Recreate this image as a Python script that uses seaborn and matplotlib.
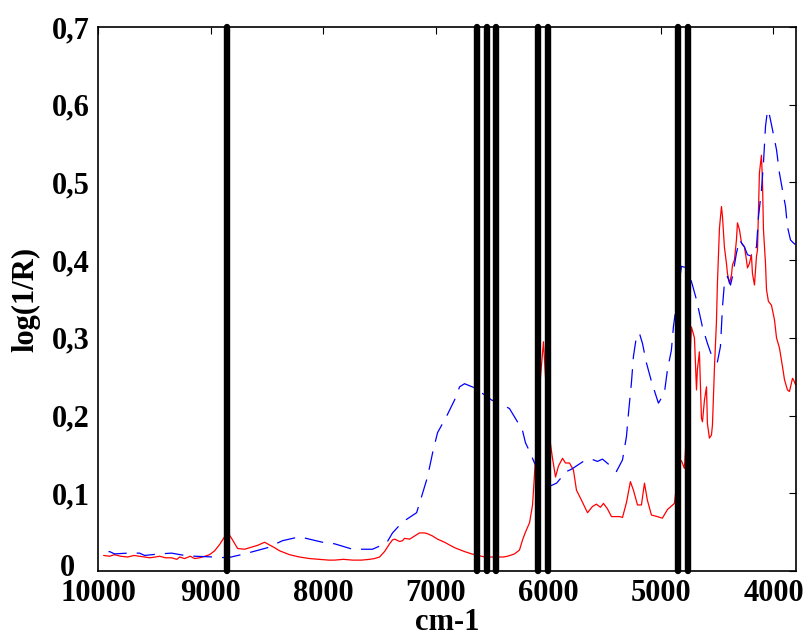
import matplotlib
matplotlib.use("Agg")
import matplotlib.pyplot as plt
import matplotlib.transforms as mtransforms
import pandas as pd
import seaborn as sns

# NIR reflectance spectra: wavenumber (cm-1) and log(1/R)
red_wn = [9950, 9897, 9853, 9800, 9737, 9680, 9631, 9586, 9540, 9490, 9453, 9400,
          9346, 9300, 9275, 9231, 9180, 9142, 9098, 9050, 9009, 8964, 8920, 8876,
          8849, 8805, 8760, 8698, 8654, 8583, 8520, 8494, 8432, 8387, 8299, 8210,
          8120, 8032, 7950, 7899, 7820, 7739, 7660, 7588, 7544, 7499, 7455, 7410,
          7384, 7366, 7321, 7295, 7277, 7232, 7188, 7144, 7099, 7073, 7028, 6984,
          6922, 6833, 6744, 6681, 6628, 6560, 6480, 6400, 6362, 6300, 6256, 6229,
          6203, 6167, 6140, 6105, 6078, 6043, 6007, 5989, 5963, 5936, 5910, 5874,
          5848, 5812, 5777, 5750, 5705, 5652, 5608, 5573, 5537, 5510, 5475, 5439,
          5368, 5341, 5306, 5271, 5244, 5208, 5173, 5146, 5120, 5084, 5031, 4987,
          4942, 4880, 4836, 4818, 4791, 4764, 4729, 4702, 4684, 4676, 4658, 4640,
          4631, 4613, 4595, 4587, 4569, 4551, 4542, 4524, 4507, 4498, 4480, 4462,
          4453, 4436, 4418, 4409, 4391, 4373, 4364, 4347, 4329, 4320, 4302, 4284,
          4276, 4258, 4240, 4231, 4213, 4196, 4187, 4169, 4151, 4142, 4125, 4107,
          4098, 4089, 4071, 4062, 4045, 4018, 3991, 3973, 3947, 3920, 3902, 3876,
          3858, 3831, 3822, 3805]
red_val = [0.020, 0.019, 0.021, 0.019, 0.018, 0.020, 0.019, 0.018, 0.017, 0.018, 0.019, 0.017,
           0.017, 0.015, 0.018, 0.016, 0.019, 0.016, 0.017, 0.019, 0.021, 0.026, 0.034, 0.044,
           0.050, 0.040, 0.029, 0.028, 0.030, 0.033, 0.037, 0.035, 0.030, 0.026, 0.021, 0.018,
           0.016, 0.015, 0.014, 0.014, 0.015, 0.014, 0.014, 0.015, 0.016, 0.018, 0.025, 0.035,
           0.040, 0.041, 0.038, 0.039, 0.042, 0.041, 0.045, 0.049, 0.049, 0.048, 0.045, 0.041,
           0.037, 0.030, 0.025, 0.022, 0.020, 0.018, 0.018, 0.018, 0.019, 0.022, 0.027, 0.040,
           0.050, 0.062, 0.085, 0.165, 0.235, 0.295, 0.205, 0.172, 0.145, 0.121, 0.135, 0.145,
           0.139, 0.139, 0.130, 0.104, 0.091, 0.075, 0.083, 0.086, 0.082, 0.087, 0.080, 0.070,
           0.070, 0.069, 0.088, 0.115, 0.104, 0.085, 0.085, 0.113, 0.091, 0.072, 0.070, 0.068,
           0.079, 0.087, 0.140, 0.142, 0.132, 0.200, 0.314, 0.300, 0.233, 0.259, 0.282, 0.197,
           0.192, 0.220, 0.237, 0.190, 0.171, 0.175, 0.188, 0.263, 0.319, 0.370, 0.441, 0.469,
           0.456, 0.417, 0.396, 0.383, 0.370, 0.381, 0.394, 0.400, 0.426, 0.448, 0.439, 0.422,
           0.420, 0.417, 0.400, 0.390, 0.396, 0.407, 0.383, 0.368, 0.405, 0.413, 0.512, 0.535,
           0.503, 0.439, 0.396, 0.362, 0.347, 0.342, 0.323, 0.300, 0.287, 0.263, 0.246, 0.233,
           0.231, 0.248, 0.246, 0.240]

blue_wn = [9950, 9897, 9853, 9737, 9631, 9586, 9453, 9346, 9231, 9142, 8964, 8849,
           8698, 8494, 8361, 8210, 8006, 7899, 7739, 7562, 7437, 7384, 7295, 7170,
           7117, 7073, 7028, 6984, 6904, 6833, 6788, 6744, 6660, 6580, 6504, 6433,
           6345, 6274, 6238, 6203, 6167, 6123, 6052, 5989, 5927, 5839, 5794, 5679,
           5617, 5564, 5519, 5430, 5395, 5341, 5306, 5288, 5262, 5244, 5217, 5191,
           5164, 5129, 5084, 5040, 5022, 4969, 4942, 4907, 4889, 4818, 4764, 4720,
           4684, 4631, 4587, 4551, 4524, 4498, 4471, 4453, 4436, 4409, 4382, 4364,
           4329, 4302, 4258, 4231, 4196, 4151, 4133, 4107, 4089, 4071, 4053, 4036,
           4009, 3973, 3947, 3920, 3893, 3876, 3849, 3822, 3805]
blue_val = [0.023, 0.025, 0.022, 0.023, 0.023, 0.020, 0.022, 0.023, 0.020, 0.019, 0.018, 0.017,
            0.022, 0.030, 0.039, 0.044, 0.037, 0.035, 0.028, 0.028, 0.036, 0.049, 0.063, 0.075,
            0.100, 0.121, 0.152, 0.178, 0.199, 0.220, 0.237, 0.241, 0.236, 0.228, 0.220, 0.216,
            0.209, 0.192, 0.186, 0.165, 0.154, 0.139, 0.120, 0.109, 0.113, 0.128, 0.131, 0.142,
            0.144, 0.141, 0.144, 0.133, 0.128, 0.143, 0.173, 0.203, 0.242, 0.276, 0.302, 0.306,
            0.293, 0.268, 0.244, 0.224, 0.216, 0.229, 0.259, 0.284, 0.314, 0.392, 0.390, 0.368,
            0.349, 0.314, 0.293, 0.278, 0.272, 0.269, 0.289, 0.340, 0.370, 0.379, 0.368, 0.379,
            0.409, 0.426, 0.417, 0.407, 0.405, 0.417, 0.456, 0.490, 0.525, 0.572, 0.593, 0.587,
            0.568, 0.542, 0.512, 0.490, 0.469, 0.443, 0.426, 0.422, 0.420]

# Selected wavenumbers marked with vertical bars
band_wn = [8850, 6630, 6545, 6465, 6095, 6005, 4845, 4755]

y_ticks = [0, 0.1, 0.2, 0.3, 0.4, 0.5, 0.6, 0.7]
y_tick_labels = ["0", "0,1", "0,2", "0,3", "0,4", "0,5", "0,6", "0,7"]
x_ticks = [10000, 9000, 8000, 7000, 6000, 5000, 4000]
x_tick_labels = ["10000", "9000", "8000", "7000", "6000", "5000", "4000"]

sns.set_theme(style="white")
plt.rcParams["font.family"] = ["Liberation Serif", "DejaVu Serif"]
plt.rcParams["font.weight"] = "bold"

fig = plt.figure(figsize=(8.05, 6.41), dpi=100)
ax = fig.add_axes([98 / 805, 70 / 641, 698 / 805, 544 / 641])

red_df = pd.DataFrame({"wn": red_wn, "val": red_val})
blue_df = pd.DataFrame({"wn": blue_wn, "val": blue_val})

sns.lineplot(data=red_df, x="wn", y="val", ax=ax, color="#ff0000", linewidth=0.9)
sns.lineplot(data=blue_df, x="wn", y="val", ax=ax, color="#0000ff", linewidth=0.9,
             dashes=False)
ax.lines[-1].set_dashes([15, 8])

for wn in band_wn:
    ax.axvline(wn, color="black", linewidth=4.6, solid_capstyle="round", clip_on=False,
               zorder=5)

ax.set_xlim(10000, 3800)
ax.set_ylim(0, 0.7)
ax.set_xticks(x_ticks)
ax.set_xticklabels(x_tick_labels)
ax.set_yticks(y_ticks)
ax.set_yticklabels(y_tick_labels)

ax.tick_params(axis="both", direction="in", length=5, width=0.8, color="black",
               top=True, right=True, labelsize=22, labelcolor="black")
ax.tick_params(axis="x", pad=6)
ax.tick_params(axis="y", pad=6)
for lab in ax.get_xticklabels() + ax.get_yticklabels():
    lab.set_fontweight("bold")

# the zero label sits a little further left and slightly raised
zero_lab = ax.get_yticklabels()[0]
zero_lab.set_transform(zero_lab.get_transform()
                       + mtransforms.ScaledTranslation(-0.15, 0.06, fig.dpi_scale_trans))

for sp in ax.spines.values():
    sp.set_visible(True)
    sp.set_color("black")
    sp.set_linewidth(1.2)

ax.set_xlabel("cm-1", fontsize=22, fontweight="bold", labelpad=0, color="black")
ax.set_ylabel("log(1/R)", fontsize=22, fontweight="bold", labelpad=8, color="black")

fig.savefig("out.png", dpi=100, facecolor="white")
